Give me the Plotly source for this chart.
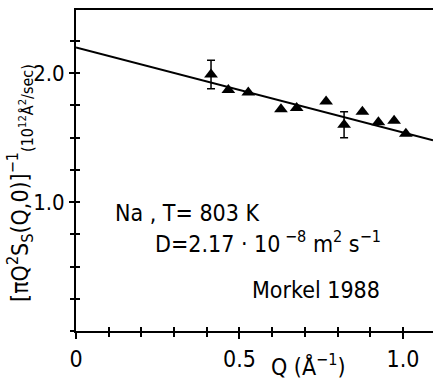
import plotly.graph_objects as go

# data
q_pts = [0.466, 0.527, 0.627, 0.675, 0.765, 0.876, 0.925, 0.973, 1.009]
v_pts = [1.87, 1.85, 1.72, 1.73, 1.78, 1.70, 1.62, 1.63, 1.53]
q_err = [0.413, 0.82]
v_err = [1.99, 1.60]
e_err = [0.11, 0.10]
fit_q = [0.0, 1.092]
fit_v = [2.20, 1.48]

FONT = "DejaVu Sans Condensed, Liberation Sans Narrow, DejaVu Sans, sans-serif"

fig = go.Figure()
fig.add_trace(go.Scatter(x=fit_q, y=fit_v, mode="lines",
                         line=dict(color="black", width=2), showlegend=False))
fig.add_trace(go.Scatter(x=q_pts, y=v_pts, mode="markers",
                         marker=dict(symbol="triangle-up", size=12, color="black"),
                         showlegend=False))
fig.add_trace(go.Scatter(x=q_err, y=v_err, mode="markers",
                         marker=dict(symbol="triangle-up", size=12, color="black"),
                         error_y=dict(type="data", array=e_err, color="black",
                                      thickness=1.5, width=4),
                         showlegend=False))
# overlay axes for inward ticks
fig.add_trace(go.Scatter(x=fit_q, y=fit_v, xaxis="x2", yaxis="y2", mode="lines",
                         line=dict(width=0), hoverinfo="skip", showlegend=False))

xr = [0, 1.092]
yr = [0, 2.49]
fig.update_layout(
    width=433, height=384,
    margin=dict(l=76, r=0, t=10, b=53),
    paper_bgcolor="white", plot_bgcolor="white",
    font=dict(family=FONT, color="black", size=23),
    xaxis=dict(range=xr, showgrid=False, zeroline=False, showline=True,
               linecolor="black", linewidth=2, mirror=True,
               tickvals=[0, 0.5, 1.0], ticktext=["0", "0.5", "1.0"],
               ticks="outside", ticklen=6, tickwidth=1.5, tickcolor="black",
               minor=dict(dtick=0.1, ticks="outside", ticklen=4, tickwidth=1.5,
                          tickcolor="black", showgrid=False),
               tickfont=dict(size=23)),
    yaxis=dict(range=yr, showgrid=False, zeroline=False, showline=True,
               linecolor="black", linewidth=2,
               tickvals=[1.0, 2.0], ticktext=["1.0", "2.0"],
               ticks="outside", ticklen=5, tickwidth=1.5, tickcolor="black",
               minor=dict(dtick=0.25, ticks="outside", ticklen=4, tickwidth=1.5,
                          tickcolor="black", showgrid=False),
               tickfont=dict(size=22)),
    xaxis2=dict(range=xr, overlaying="x", showgrid=False, zeroline=False,
                showticklabels=False, dtick=0.1, ticks="inside", ticklen=4,
                tickwidth=1.5, tickcolor="black", showline=False),
    yaxis2=dict(range=yr, overlaying="y", showgrid=False, zeroline=False,
                showticklabels=False, dtick=0.25, ticks="inside", ticklen=4,
                tickwidth=1.5, tickcolor="black", showline=False),
)

fig.add_annotation(x=0.113, y=0.915, xref="x", yref="y", xanchor="left", yanchor="middle",
                   text="Na , T= 803 K", showarrow=False, font=dict(size=23))
fig.add_annotation(x=0.235, y=0.69, xref="x", yref="y", xanchor="left", yanchor="middle",
                   text="D=2.17 · 10<sup> −8</sup> m<sup>2</sup> s<sup>−1</sup>",
                   showarrow=False, font=dict(size=23))
fig.add_annotation(x=0.532, y=0.318, xref="x", yref="y", xanchor="left", yanchor="middle",
                   text="Morkel 1988", showarrow=False, font=dict(size=23))
fig.add_annotation(x=0.71, y=-0.106, xref="x", yref="paper", xanchor="center", yanchor="middle",
                   text="Q (Å<sup>−1</sup>)", showarrow=False, font=dict(size=23))
fig.add_annotation(x=-0.158, y=0.46, xref="paper", yref="paper", xanchor="center", yanchor="middle",
                   textangle=-90,
                   text="[πQ<sup>2</sup>S<sub>S</sub>(Q,0)]<sup>−1</sup><sub>"
                        "<span style='font-size:16px'>(10<sup>12</sup>Å<sup>2</sup>/sec)</span></sub>",
                   showarrow=False, font=dict(size=23))

fig.write_html("out.html")
